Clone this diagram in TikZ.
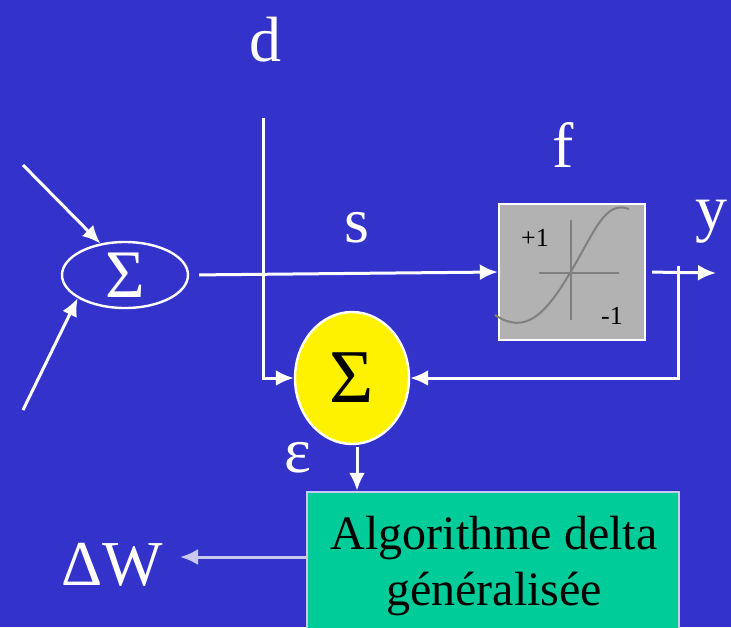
\documentclass[tikz,border=0pt]{standalone}
\usepackage{fontspec}
\setmainfont{Liberation Serif}
\usetikzlibrary{arrows.meta,shapes.geometric}
\definecolor{slideBlue}{RGB}{51,51,204}
\definecolor{boxGray}{RGB}{178,178,178}
\definecolor{curveGray}{RGB}{128,128,128}
\definecolor{algoGreen}{RGB}{0,204,153}
\definecolor{paleLine}{RGB}{200,200,240}
\tikzset{
  wire/.style={draw=white, line width=1.5pt, -{Latex[length=9pt,width=8pt]}},
  lbl/.style={text=white, font=\fontsize{32}{36}\selectfont, inner sep=0pt},
  tick/.style={font=\fontsize{13}{14}\selectfont, inner sep=0pt},
}
\begin{document}
\begin{tikzpicture}[x=0.5pt, y=-0.5pt]
% background
\useasboundingbox[fill=slideBlue] (0,0) rectangle (731,627);
% nodes
\node[ellipse, draw=white, line width=1.2pt, minimum width=63pt, minimum height=33pt,
  inner sep=0pt, text=white, font=\fontsize{34}{36}\selectfont] (sumin) at (125,275) {Σ};
\node[ellipse, draw=white, fill=yellow, line width=1.2pt, minimum width=57pt, minimum height=66pt,
  inner sep=0pt, font=\fontsize{38}{40}\selectfont] (sumerr) at (352,378) {Σ};
\node[draw=white, fill=boxGray, line width=1.2pt, minimum width=73pt, minimum height=68pt,
  inner sep=0pt] (actf) at (572,272) {};
\node[draw=paleLine, fill=algoGreen, line width=1.2pt, minimum width=186pt, minimum height=70pt,
  inner sep=0pt] (algo) at (493,562) {};
\node[align=center, font=\fontsize{24}{28}\selectfont, inner sep=0pt] (algotxt) at (494,566)
  {Algorithme delta\\généralisée};
% labels
\node[lbl] (dlbl) at (265,40) {d};
\node[lbl] (slbl) at (357,228) {s};
\node[lbl] (flbl) at (563,145) {f};
\node[lbl] (ylbl) at (711,222) {y};
\node[lbl] (epslbl) at (298,458) {ε};
\node[lbl] (dwlbl) at (112,565) {ΔW};
% sigmoid inside the box
\draw[curveGray, line width=1pt] (539,273) -- (619,273) (571,220) -- (571,320);
\draw[curveGray, line width=1pt] (495,315) .. controls (525,335) and (545,315) .. (570,273)
  .. controls (595,231) and (605,200) .. (629,209);
\node[tick] (plus) at (535,238) {+1};
\node[tick] (minus) at (612,316) {-1};
% free ends
\coordinate (in1) at (23,165);
\coordinate (in2) at (23,410);
\coordinate (dtop) at (263,118);
\coordinate (yout) at (716,273);
\coordinate (btop) at (678,266);
\coordinate (errout) at (357,447);
\coordinate (dwend) at (180,557);
% connectors
\draw[wire] (in1) -- (sumin.128);
\draw[wire] (in2) -- (sumin.206);
\draw[wire, shorten <=5pt] (sumin.east) -- (actf.west);
\draw[wire] (dtop) |- (sumerr.west);
\draw[wire, shorten <=3pt] (actf.east) -- (yout);
\draw[wire] (btop) |- (sumerr.east);
\draw[wire] (errout) -- (errout |- algo.north);
\draw[wire, draw=paleLine] (algo.west |- dwend) -- (dwend);
\end{tikzpicture}
\end{document}
